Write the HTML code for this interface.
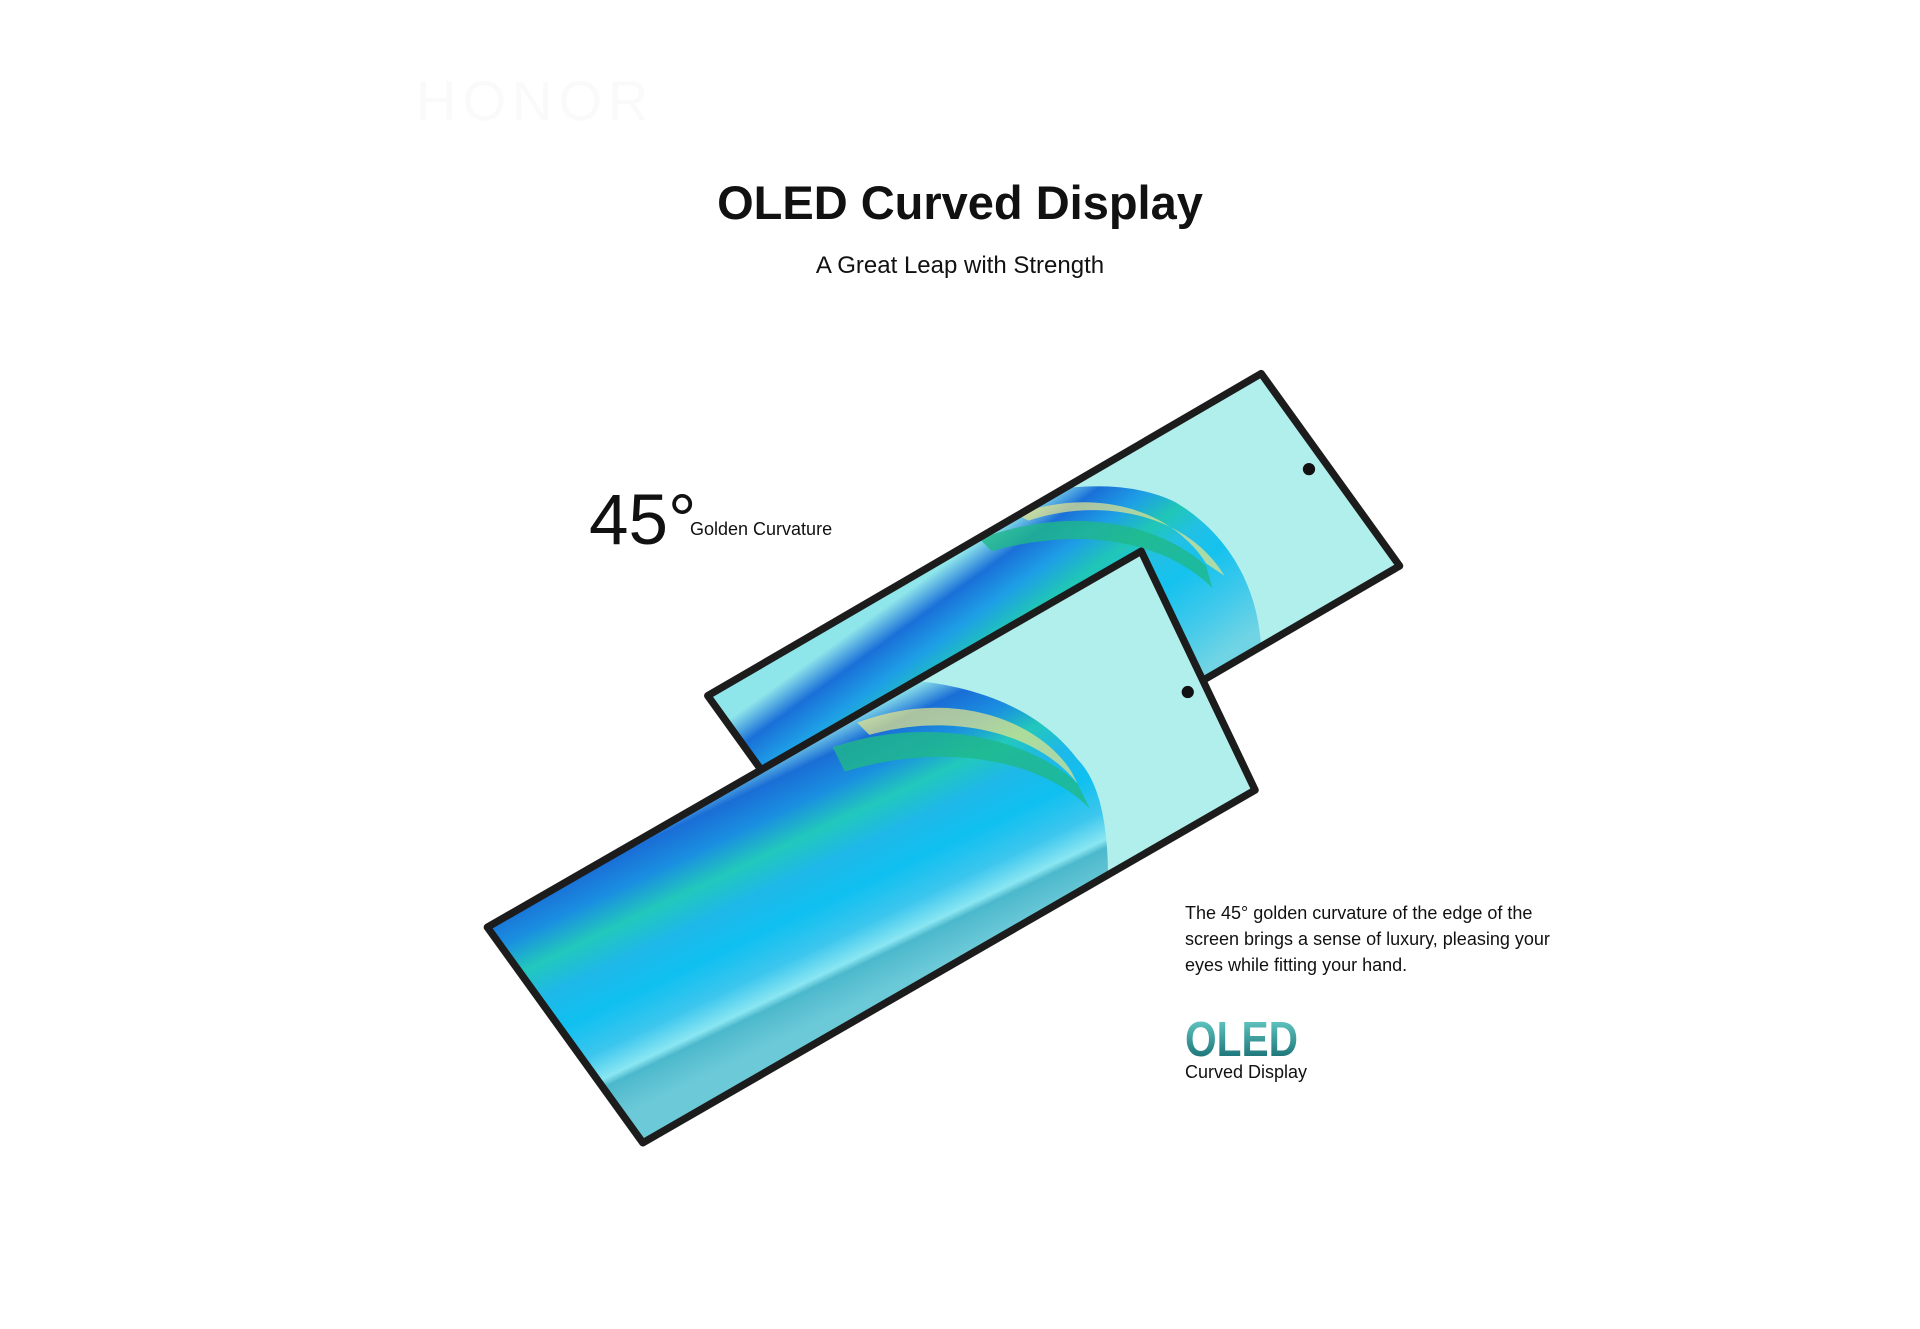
<!DOCTYPE html>
<html><head><meta charset="utf-8"><style>
html,body{margin:0;padding:0;background:#fff;}
body{width:1920px;height:1329px;position:relative;overflow:hidden;font-family:"Liberation Sans",sans-serif;color:#111;}
.t{position:absolute;white-space:nowrap;}
svg{position:absolute;left:0;top:0;}
</style></head><body>
<svg width="1920" height="1329" viewBox="0 0 1568 1085" preserveAspectRatio="none">
<defs>
<linearGradient id="gb" gradientUnits="userSpaceOnUse" x1="800" y1="440" x2="913" y2="597">
<stop offset="0" stop-color="#8fe6ea"/><stop offset="0.12" stop-color="#1a70d8"/><stop offset="0.25" stop-color="#1e9fe6"/><stop offset="0.38" stop-color="#20c6b6"/><stop offset="0.5" stop-color="#22c0e6"/><stop offset="0.62" stop-color="#14c2ee"/><stop offset="0.8" stop-color="#3cc8ec"/><stop offset="1" stop-color="#70d4e4"/>
</linearGradient>
<linearGradient id="gf" gradientUnits="userSpaceOnUse" x1="660" y1="600" x2="753" y2="795">
<stop offset="0" stop-color="#8ee4ea"/><stop offset="0.1" stop-color="#1a6ed6"/><stop offset="0.22" stop-color="#1a8fe0"/><stop offset="0.34" stop-color="#22c8bc"/><stop offset="0.46" stop-color="#1fb8e8"/><stop offset="0.6" stop-color="#0fc0f0"/><stop offset="0.74" stop-color="#3cc6ee"/><stop offset="0.84" stop-color="#8ae6f2"/><stop offset="0.87" stop-color="#4cb8cc"/><stop offset="1" stop-color="#6ccad8"/>
</linearGradient>
<clipPath id="cb"><polygon points="1030,305 1143,462 691,725 578,568"/></clipPath>
<clipPath id="cf"><polygon points="932,450 1025,645 525,933 398,757"/></clipPath>
</defs>
<g clip-path="url(#cb)">
<polygon points="1030,305 1143,462 691,725 578,568" fill="url(#gb)"/>
<path d="M860,400 L1030,300 L1150,462 L1030,535 C1030,490 1010,440 960,410 C930,395 890,395 860,400 Z" fill="#b1efec"/>
<path d="M830,420 C900,395 960,420 985,460 L1000,470 C970,420 900,405 840,425 Z" fill="#e8e58a" opacity="0.7"/>
<path d="M800,440 C880,410 950,430 985,462 L990,480 C950,440 880,430 810,450 Z" fill="#1fb88a" opacity="0.8"/>
</g>
<polygon points="1030,305 1143,462 691,725 578,568" fill="none" stroke="#1c1c1c" stroke-width="6" stroke-linejoin="round"/>
<circle cx="1069" cy="383" r="5" fill="#111"/>
<g clip-path="url(#cf)">
<polygon points="932,450 1025,645 525,933 398,757" fill="url(#gf)"/>
<path d="M740,555 L932,445 L1030,645 L905,718 C905,680 900,640 880,620 C850,580 800,560 740,555 Z" fill="#b1efec"/>
<path d="M700,590 C780,560 850,590 875,630 L880,640 C850,600 780,580 710,600 Z" fill="#e8e58a" opacity="0.7"/>
<path d="M680,610 C770,580 850,610 880,640 L890,660 C850,620 770,605 690,630 Z" fill="#1fb88a" opacity="0.8"/>
</g>
<polygon points="932,450 1025,645 525,933 398,757" fill="none" stroke="#1c1c1c" stroke-width="6" stroke-linejoin="round"/>
<circle cx="970" cy="565" r="5" fill="#111"/>
</svg>
<div class="t" style="left:416px;top:68px;font-size:56px;color:#fafafa;letter-spacing:6px;">HONOR</div>
<div class="t" style="left:0;width:1920px;text-align:center;top:175px;font-size:47px;font-weight:bold;">OLED Curved Display</div>
<div class="t" style="left:0;width:1920px;text-align:center;top:252px;font-size:24px;">A Great Leap with Strength</div>
<div class="t" style="left:589px;top:480px;font-size:71px;">45°</div>
<div class="t" style="left:690px;top:519px;font-size:18px;">Golden Curvature</div>
<div class="t" style="left:1185px;top:900px;font-size:18px;line-height:26px;">The 45° golden curvature of the edge of the<br>screen brings a sense of luxury, pleasing your<br>eyes while fitting your hand.</div>
<div class="t" style="left:1185px;top:1012px;font-size:49px;font-weight:bold;transform:scaleX(0.83);transform-origin:0 0;background:linear-gradient(180deg,#6fd6d0,#0a5e64);-webkit-background-clip:text;background-clip:text;color:transparent;">OLED</div>
<div class="t" style="left:1185px;top:1062px;font-size:18px;">Curved Display</div>
</body></html>
